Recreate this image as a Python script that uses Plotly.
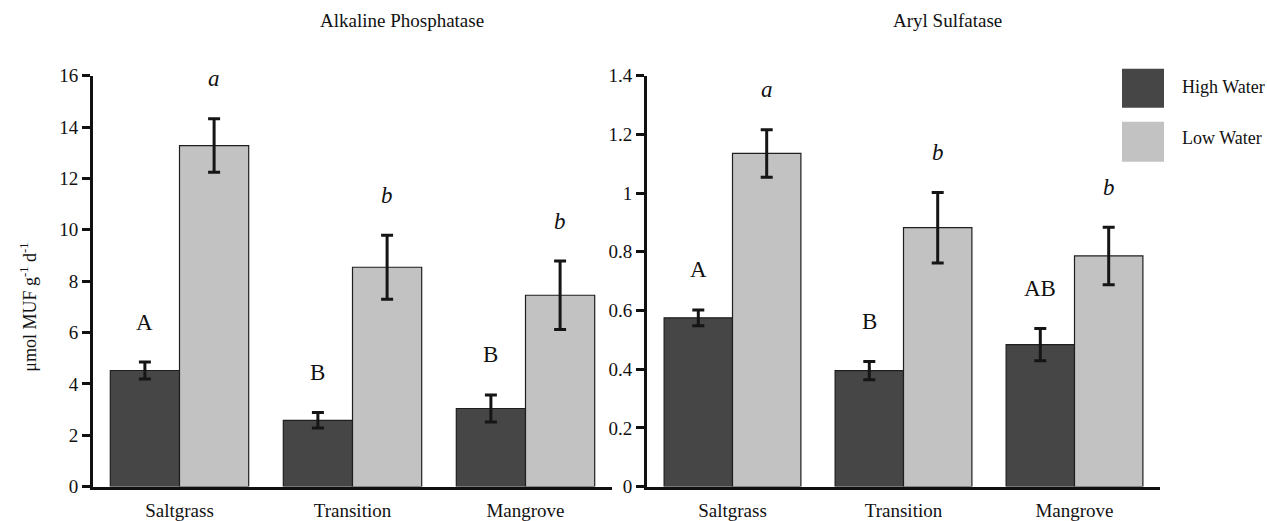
import plotly.graph_objects as go

sites = ["Saltgrass", "Transition", "Mangrove"]

# Alkaline Phosphatase (µmol MUF g-1 d-1)
alp_high = [4.52, 2.58, 3.04]
alp_high_err = [0.33, 0.30, 0.53]
alp_low = [13.28, 8.54, 7.45]
alp_low_err = [1.04, 1.25, 1.33]
alp_high_lbl = ["A", "B", "B"]
alp_low_lbl = ["a", "b", "b"]

# Aryl Sulfatase
ars_high = [0.575, 0.395, 0.484]
ars_high_err = [0.027, 0.031, 0.055]
ars_low = [1.135, 0.882, 0.786]
ars_low_err = [0.081, 0.120, 0.098]
ars_high_lbl = ["A", "B", "AB"]
ars_low_lbl = ["a", "b", "b"]

alp_ticks = [0, 2, 4, 6, 8, 10, 12, 14, 16]
ars_ticks = [0, 0.2, 0.4, 0.6, 0.8, 1, 1.2, 1.4]
ars_ticktext = ["0", "0.2", "0.4", "0.6", "0.8", "1", "1.2", "1.4"]

FONT = "Liberation Serif, Times New Roman, Times, serif"
HIGH_C = "#464646"
LOW_C = "#c1c2c1"

W, H = 1267, 521
# observed vertical mapping of the capture: screen = SY * page + CY
SY, CY = 0.958, 10.3


def fx(px):
    return px / W


def fy(py):
    return 1 - ((py - CY) / SY) / H


fig = go.Figure()


def add_pair(high, high_err, low, low_err, xa, ya):
    for vals, errs, col, name in [(high, high_err, HIGH_C, "High Water"),
                                  (low, low_err, LOW_C, "Low Water")]:
        fig.add_trace(go.Bar(
            x=sites, y=vals, name=name, xaxis=xa, yaxis=ya,
            marker=dict(color=col, line=dict(color="#1e1e1e", width=1.2)),
            error_y=dict(type="data", array=errs, visible=True,
                         color="#151515", thickness=3, width=6),
            showlegend=False, hoverinfo="skip"))


add_pair(alp_high, alp_high_err, alp_low, alp_low_err, "x", "y")
add_pair(ars_high, ars_high_err, ars_low, ars_low_err, "x2", "y2")

annotations = []


def add_letters(vals, errs, lbls, xref, yref, off, italic):
    for i, (v, e, t) in enumerate(zip(vals, errs, lbls)):
        annotations.append(dict(
            x=i + off, y=v + e, xref=xref, yref=yref,
            text=f"<i>{t}</i>" if italic else t, showarrow=False,
            xanchor="center", yanchor="middle", yshift=40,
            font=dict(family=FONT, size=23, color="#111")))


add_letters(alp_high, alp_high_err, alp_high_lbl, "x", "y", -0.2, False)
add_letters(alp_low, alp_low_err, alp_low_lbl, "x", "y", 0.2, True)
add_letters(ars_high, ars_high_err, ars_high_lbl, "x2", "y2", -0.2, False)
add_letters(ars_low, ars_low_err, ars_low_lbl, "x2", "y2", 0.2, True)

# panel titles
annotations.append(dict(x=fx(318), y=fy(21), xref="paper", yref="paper",
                        text="Alkaline Phosphatase", showarrow=False,
                        xanchor="left", yanchor="middle",
                        font=dict(family=FONT, size=19, color="#111")))
annotations.append(dict(x=fx(891), y=fy(21), xref="paper", yref="paper",
                        text="Aryl Sulfatase", showarrow=False,
                        xanchor="left", yanchor="middle",
                        font=dict(family=FONT, size=19, color="#111")))
# y title
annotations.append(dict(x=fx(29), y=fy(308), xref="paper", yref="paper",
                        text="μmol MUF g<sup>-1</sup> d<sup>-1</sup>", showarrow=False,
                        textangle=-90, xanchor="center", yanchor="middle",
                        font=dict(family=FONT, size=18, color="#111")))

# legend drawn manually
shapes = []
for (y0, y1, col, name, ty) in [(69, 108, HIGH_C, "High Water", 87),
                                (122, 162, LOW_C, "Low Water", 138)]:
    shapes.append(dict(type="rect", xref="paper", yref="paper",
                       x0=fx(1122), x1=fx(1164), y0=fy(y1), y1=fy(y0),
                       fillcolor=col, line=dict(width=0)))
    annotations.append(dict(x=fx(1180), y=fy(ty), xref="paper", yref="paper",
                            text=name, showarrow=False, xanchor="left",
                            yanchor="middle",
                            font=dict(family=FONT, size=18, color="#111")))

ydom = [fy(487), fy(76)]
xaxis_common = dict(type="category", showline=True, linecolor="#111", linewidth=3,
                    ticks="", showgrid=False, zeroline=False, range=[-0.5, 2.5],
                    tickfont=dict(family=FONT, size=19, color="#111"),
                    ticklabelstandoff=5, fixedrange=True)
yaxis_common = dict(showline=True, linecolor="#111", linewidth=3, ticks="outside",
                    ticklen=8, tickwidth=3, tickcolor="#111", showgrid=False,
                    zeroline=False, fixedrange=True,
                    tickfont=dict(family=FONT, size=19, color="#111"))

fig.update_layout(
    width=W, height=H, margin=dict(l=0, r=0, t=0, b=0),
    plot_bgcolor="white", paper_bgcolor="white",
    font=dict(family=FONT, color="#111"),
    barmode="group", bargap=0.2, bargroupgap=0,
    xaxis=dict(domain=[fx(93), fx(612)], anchor="y", **xaxis_common),
    xaxis2=dict(domain=[fx(647), fx(1160)], anchor="y2", **xaxis_common),
    yaxis=dict(domain=ydom, anchor="x", range=[0, 16], tickvals=alp_ticks,
               **yaxis_common),
    yaxis2=dict(domain=ydom, anchor="x2", range=[0, 1.4], tickvals=ars_ticks,
                ticktext=ars_ticktext, **yaxis_common),
    annotations=annotations, shapes=shapes,
)

fig.write_html(
    "out.html",
    config={"displayModeBar": False},
    post_script="document.body.style.margin='0';document.body.style.padding='0';"
                "document.documentElement.style.overflow='hidden';",
)
